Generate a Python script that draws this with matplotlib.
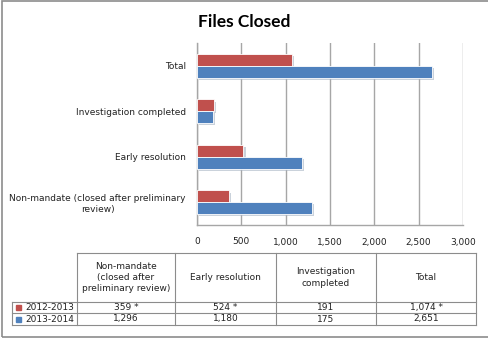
import matplotlib.pyplot as plt
import matplotlib.patheffects as pe
from matplotlib.lines import Line2D
from matplotlib.patches import Rectangle
import numpy as np

# Files closed per category, bottom to top as drawn on the chart
categories = ['Non-mandate (closed after preliminary\nreview)', 'Early resolution',
              'Investigation completed', 'Total']
table_headers = ['Non-mandate\n(closed after\npreliminary review)', 'Early resolution',
                 'Investigation\ncompleted', 'Total']
series_names = ['2012-2013', '2013-2014']
values_2012 = [359, 524, 191, 1074]
values_2013 = [1296, 1180, 175, 2651]
notes_2012 = [' *', ' *', '', ' *']
xticks = [0, 500, 1000, 1500, 2000, 2500, 3000]

RED = '#C0504D'
BLUE = '#4F81BD'
GRID = '#a6a6a6'
W, H = 488, 338


def fx(px):
    return px / W


def fy(py):
    return 1 - py / H


fig = plt.figure(figsize=(W / 100, H / 100), dpi=100)
fig.patch.set_facecolor('white')

# outer chart frame (right edge runs off the image)
fig.add_artist(Rectangle((fx(2), fy(337)), fx(500) - fx(2), fy(1) - fy(337),
                         transform=fig.transFigure, fill=False, edgecolor='#8c8c8c', lw=1.2))

fig.text(0.5, fy(22), 'Files Closed', ha='center', va='center',
         fontsize=12.5, fontweight='bold', family='Lato', color='black')

ax = fig.add_axes([fx(197), fy(225), fx(463) - fx(197), fy(43) - fy(225)])
y = np.arange(len(categories))
h = 0.26
shadow = [pe.SimplePatchShadow(offset=(1.5, -1.5), shadow_rgbFace='#a8b4c4', alpha=0.6), pe.Normal()]
ax.barh(y + h / 2, values_2012, h, color=RED, edgecolor='white', lw=0.6, path_effects=shadow, zorder=3)
ax.barh(y - h / 2, values_2013, h, color=BLUE, edgecolor='white', lw=0.6, path_effects=shadow, zorder=3)

ax.set_xlim(0, 3000)
ax.set_ylim(-0.5, 3.5)
ax.set_xticks(xticks)
ax.set_xticklabels([f'{t:,}' for t in xticks], fontsize=6.5, color='#222222')
ax.set_yticks(y)
ax.set_yticklabels(categories, fontsize=6.5, color='#222222', ha='right')
ax.tick_params(axis='both', length=0, pad=9)
ax.tick_params(axis='y', pad=8)
for lbl in ax.get_yticklabels():
    lbl.set_multialignment('center')
ax.grid(True, axis='x', color=GRID, lw=1, zorder=0)
for side in ['top', 'right']:
    ax.spines[side].set_visible(False)
for side in ['left', 'bottom']:
    ax.spines[side].set_color(GRID)
    ax.spines[side].set_linewidth(1)

# data table below the chart
col_x = [12, 77, 175, 276, 376, 476]
row_y = [253, 302, 313, 325]
TBL = '#8c8c8c'


def hline(x0, x1, yy):
    fig.add_artist(Line2D([fx(x0), fx(x1)], [fy(yy), fy(yy)], transform=fig.transFigure, color=TBL, lw=0.8))


def vline(xx, y0, y1):
    fig.add_artist(Line2D([fx(xx), fx(xx)], [fy(y0), fy(y1)], transform=fig.transFigure, color=TBL, lw=0.8))


hline(col_x[1], col_x[-1], row_y[0])
for yy in row_y[1:]:
    hline(col_x[0], col_x[-1], yy)
vline(col_x[0], row_y[1], row_y[-1])
for xx in col_x[1:]:
    vline(xx, row_y[0], row_y[-1])

for i, head in enumerate(table_headers):
    cx = (col_x[i + 1] + col_x[i + 2]) / 2
    fig.text(fx(cx), fy((row_y[0] + row_y[1]) / 2), head, ha='center', va='center',
             fontsize=6.5, color='#222222', linespacing=1.3)

rows = [(series_names[0], RED, [f'{v:,}{n}' for v, n in zip(values_2012, notes_2012)]),
        (series_names[1], BLUE, [f'{v:,}' for v in values_2013])]
for r, (name, color, cells) in enumerate(rows):
    cy = (row_y[r + 1] + row_y[r + 2]) / 2
    fig.add_artist(Rectangle((fx(16), fy(cy + 2.5)), fx(5), fy(0) - fy(5),
                             transform=fig.transFigure, color=color))
    fig.text(fx(25), fy(cy), name, ha='left', va='center', fontsize=6.5, color='#222222')
    for i, txt in enumerate(cells):
        cx = (col_x[i + 1] + col_x[i + 2]) / 2
        fig.text(fx(cx), fy(cy), txt, ha='center', va='center', fontsize=6.5, color='#222222')

fig.savefig('out.png', dpi=100, facecolor='white')
